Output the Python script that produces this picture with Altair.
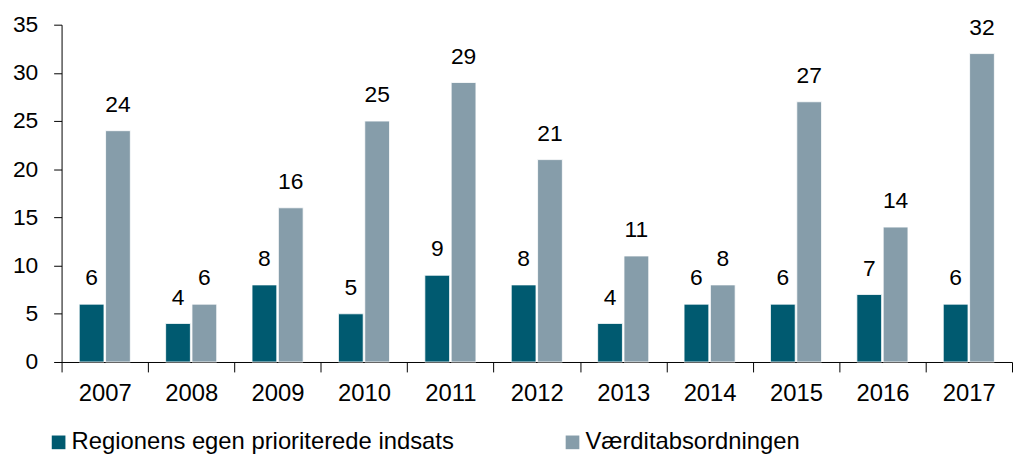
import altair as alt
import pandas as pd

years = ["2007", "2008", "2009", "2010", "2011", "2012", "2013", "2014", "2015", "2016", "2017"]
regionens = [6, 4, 8, 5, 9, 8, 4, 6, 6, 7, 6]
vaerditab = [24, 6, 16, 25, 29, 21, 11, 8, 27, 14, 32]
series = ["Regionens egen prioriterede indsats", "Værditabsordningen"]
colors = ["#005A70", "#869DAA"]

rows = []
for y, a, b in zip(years, regionens, vaerditab):
    rows.append({"year": y, "serie": series[0], "value": a})
    rows.append({"year": y, "serie": series[1], "value": b})
df = pd.DataFrame(rows)

FONT = "Liberation Sans"
FS = 23

x = alt.X("year:N", sort=years, title=None,
          scale=alt.Scale(paddingInner=0, paddingOuter=0),
          axis=alt.Axis(labelAngle=0, tickBand="extent", tickSize=10, labelPadding=10,
                        domainColor="#000000", tickColor="#000000", labelFontSize=24,
                        labelFont=FONT, labelColor="#000000", domainWidth=1))
xo = alt.XOffset("serie:N", sort=series,
                 scale=alt.Scale(paddingInner=0.06, paddingOuter=0.67))
yenc = alt.Y("value:Q", title=None,
             scale=alt.Scale(domain=[0, 35], nice=False),
             axis=alt.Axis(values=list(range(0, 36, 5)), grid=False, tickSize=8, labelPadding=16,
                           domainColor="#000000", tickColor="#000000", labelFontSize=FS,
                           labelFont=FONT, labelColor="#000000"))

color = alt.Color("serie:N", sort=series,
                  scale=alt.Scale(domain=series, range=colors),
                  legend=alt.Legend(title=None, orient="none", legendX=-15, legendY=409,
                                    direction="horizontal", columns=2, columnPadding=107,
                                    symbolType="square", symbolSize=190, symbolStrokeWidth=0,
                                    labelFontSize=24, labelFont=FONT, labelColor="#000000",
                                    labelOffset=1, labelLimit=600))

base = alt.Chart(df).encode(x=x, xOffset=xo, y=yenc)

bars = base.mark_bar(stroke="white", strokeWidth=0.8).encode(color=color)
labels = base.mark_text(dy=-19, baseline="alphabetic", fontSize=FS, font=FONT, color="#000000").encode(
    text="value:Q")

chart = (bars + labels).properties(
    width=958, height=340,
    autosize=alt.AutoSizeParams(type="none"),
    padding={"left": 54, "top": 15, "right": 2, "bottom": 100},
).configure_view(stroke=None).configure_axis(domainWidth=1)

chart.save("out.html", embed_options={"renderer": "svg", "actions": False})
